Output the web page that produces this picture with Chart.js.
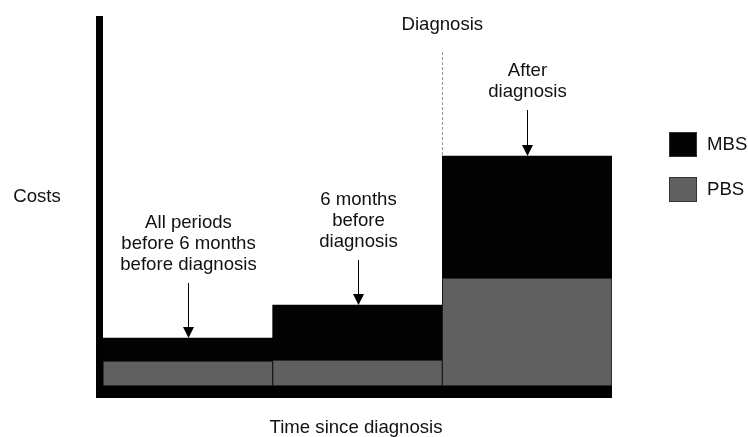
<!DOCTYPE html>
<html>
<head>
<meta charset="utf-8">
<script src="https://cdn.jsdelivr.net/npm/chart.js@4/dist/chart.umd.min.js"></script>
<style>
  html, body { margin:0; padding:0; background:#fff; }
  #wrap { width:748px; height:437px; position:relative; }
</style>
</head>
<body>
<div id="wrap"><canvas id="chart"></canvas></div>
<script>
// periods along the time axis
const periods = ["All periods before 6 months before diagnosis", "6 months before diagnosis", "After diagnosis"];
const periodLabels = [
  ["All periods", "before 6 months", "before diagnosis"],
  ["6 months", "before", "diagnosis"],
  ["After", "diagnosis"]
];
// schematic cost levels (arbitrary units)
const pbsCosts = [25, 26, 108];
const mbsCosts = [23, 55, 122];
const yMax = 370;
const diagnosisLabel = "Diagnosis";
const yTitle = "Costs";
const xTitle = "Time since diagnosis";

const FONT = "18.6px 'Liberation Sans', Arial, sans-serif";
const TXT = "#111";

// arrows + text above each bar, the diagnosis line, axes, legend
const schematic = {
  id: "schematic",
  afterDatasetsDraw(chart) {
    const ctx = chart.ctx;
    const ca = chart.chartArea;
    const xs = chart.scales.x, ys = chart.scales.y;
    ctx.save();

    // thick axes
    ctx.fillStyle = "#000";
    ctx.fillRect(ca.left - 7, ca.top, 7, ca.bottom - ca.top + 12);
    ctx.fillRect(ca.left - 7, ca.bottom, ca.right - ca.left + 7, 12);

    // diagnosis dashed line between 2nd and 3rd period
    const bx = (xs.getPixelForValue(1) + xs.getPixelForValue(2)) / 2;
    const topAfter = ys.getPixelForValue(pbsCosts[2] + mbsCosts[2]);
    ctx.strokeStyle = "#999";
    ctx.lineWidth = 1;
    ctx.setLineDash([3, 2]);
    ctx.beginPath();
    ctx.moveTo(Math.round(bx) + 0.5, 52);
    ctx.lineTo(Math.round(bx) + 0.5, topAfter);
    ctx.stroke();
    ctx.setLineDash([]);

    ctx.font = FONT;
    ctx.fillStyle = TXT;
    ctx.textAlign = "center";
    ctx.textBaseline = "middle";
    ctx.fillText(diagnosisLabel, bx, 25);

    // labels with arrows
    const arrowLen = [55, 45, 46];
    periods.forEach((p, i) => {
      const x = Math.round(xs.getPixelForValue(i)) + 0.5;
      const tip = ys.getPixelForValue(pbsCosts[i] + mbsCosts[i]);
      const start = tip - arrowLen[i];
      ctx.strokeStyle = "#000";
      ctx.beginPath();
      ctx.moveTo(x, start);
      ctx.lineTo(x, tip - 10);
      ctx.stroke();
      ctx.fillStyle = "#000";
      ctx.beginPath();
      ctx.moveTo(x - 5.5, tip - 11);
      ctx.lineTo(x + 5.5, tip - 11);
      ctx.lineTo(x, tip);
      ctx.closePath();
      ctx.fill();
      const lines = periodLabels[i];
      ctx.fillStyle = TXT;
      lines.forEach((l, j) => {
        ctx.fillText(l, x, start - 18 - (lines.length - 1 - j) * 21);
      });
    });

    // axis titles
    ctx.fillText(yTitle, 37, 197);
    ctx.fillText(xTitle, 356, 428);

    // legend (MBS on top)
    const ds = chart.data.datasets.slice().reverse();
    ds.forEach((d, k) => {
      const y = 132 + k * 45;
      ctx.fillStyle = d.backgroundColor;
      ctx.fillRect(669, y, 28, 25);
      ctx.strokeStyle = "#333";
      ctx.strokeRect(669.5, y + 0.5, 27, 24);
      ctx.fillStyle = TXT;
      ctx.textAlign = "left";
      ctx.fillText(d.label, 707, y + 13);
    });
    ctx.restore();
  }
};

new Chart(document.getElementById("chart"), {
  type: "bar",
  data: {
    labels: periods,
    datasets: [
      { label: "PBS", data: pbsCosts, backgroundColor: "#606060", borderColor: "#1a1a1a", borderWidth: 1, borderSkipped: false },
      { label: "MBS", data: mbsCosts, backgroundColor: "#030303", borderWidth: 0 }
    ]
  },
  options: {
    responsive: true,
    maintainAspectRatio: false,
    animation: false,
    layout: { padding: { left: 103, right: 136, top: 16, bottom: 51 } },
    plugins: { legend: { display: false }, tooltip: { enabled: false } },
    datasets: { bar: { categoryPercentage: 1, barPercentage: 1 } },
    scales: {
      x: { display: false, stacked: true },
      y: { display: false, stacked: true, min: 0, max: yMax }
    }
  },
  plugins: [schematic]
});
</script>
</body>
</html>
